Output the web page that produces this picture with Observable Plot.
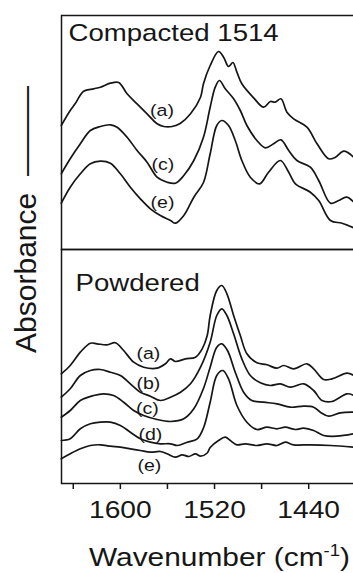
<!DOCTYPE html>
<html>
<head>
<meta charset="utf-8">
<script src="https://cdn.jsdelivr.net/npm/d3@7"></script>
<script src="https://cdn.jsdelivr.net/npm/@observablehq/plot@0.6"></script>
<style>
html, body { margin: 0; padding: 0; background: #fff; overflow: hidden; }
</style>
</head>
<body>
<div id="chart"></div>
<script>
// ---- Data (wavenumber cm^-1, absorbance in arbitrary offset units per panel) ----
const panels = ["Compacted 1514", "Powdered"];
const wavenumberTicks = [1640, 1600, 1560, 1520, 1480, 1440];
const labeledTicks = [1600, 1520, 1440];

const compactedA = [[1650.2,124],[1642.6,139],[1638.3,146],[1631.2,158.3],[1622.7,160.7],[1617,162.3],[1608.5,166.3],[1601.4,167],[1594.3,155.7],[1585.8,145.7],[1577.3,135.7],[1568.8,125.7],[1563.2,123],[1556,123],[1548.9,126.3],[1540.4,135.7],[1531.9,152.3],[1529.4,165.7],[1523.7,184],[1516.6,198],[1512.3,192.3],[1508.1,183],[1504.4,187],[1501,177.3],[1496.8,165.7],[1486.8,151.7],[1478.3,142.3],[1472.6,148],[1468.4,147.3],[1463.6,150.7],[1458.5,137.3],[1452.8,130.7],[1441.5,122.3],[1432.9,105.7],[1423,90.7],[1417.3,92.3],[1410.2,98.3],[1401.7,92.3]];
const compactedC = [[1650.2,75.7],[1642.6,90.7],[1634,105.7],[1625.5,119],[1617,123],[1608.5,124.7],[1602.8,122.3],[1594.3,112.3],[1585.8,99],[1577.3,87.3],[1568.8,72.3],[1560.3,67.3],[1553.2,66.3],[1546.1,74],[1537.6,89],[1529.4,112.3],[1523.7,142.3],[1519.4,162.3],[1515.8,169],[1510.9,160.7],[1503.8,150.7],[1498.1,139],[1492.5,124],[1484,109],[1476.9,101.7],[1469.8,105.7],[1463.6,109.7],[1457,99],[1450,89],[1438.6,82.3],[1431.5,69],[1421.5,46.3],[1414.5,49],[1407.9,52.3],[1401.7,47.3]];
const compactedE = [[1650.2,46.3],[1642.6,62.3],[1634,75.7],[1625.5,85.7],[1617,88.3],[1608.5,86.3],[1600,75.7],[1591.5,62.3],[1583,50.7],[1574.5,40.7],[1566,34],[1557.4,29],[1553.2,26.3],[1546.1,34],[1537.6,52.3],[1529.4,67],[1523.7,95.7],[1518.1,124],[1513.8,129],[1508.1,124],[1502.4,109],[1496.8,89],[1489.6,72.3],[1481.7,65.7],[1474.1,77.3],[1464.1,89],[1457,77.3],[1451.3,65.7],[1438.6,57.3],[1431.5,49],[1421.5,29],[1411.7,26.3],[1401.7,21.7]];

const powderedA = [[1650.2,109.7],[1642.6,118],[1634,131.3],[1625.5,140.3],[1619.8,139.7],[1611.3,138.7],[1604.3,140.7],[1597.2,133],[1588.7,121.3],[1580.2,116.3],[1568.8,115.3],[1561.7,119.7],[1557.4,124.7],[1553.2,122],[1544.7,124.7],[1536.2,126.3],[1530.5,134.7],[1526.2,148],[1523.7,168],[1518.1,193],[1513.8,198],[1509.5,189.7],[1503.8,168],[1498.1,148],[1492.5,129.7],[1484,120.7],[1475.5,118.7],[1467,115.3],[1461.3,118],[1452.8,114.7],[1441.5,119.7],[1435.8,114.7],[1427.3,104],[1420.2,104.7],[1407.4,110.3],[1401.7,108]];
const powderedB = [[1650.2,86.3],[1642.6,94.7],[1634,108],[1625.5,113],[1617,114],[1608.5,111.3],[1600,108],[1591.5,99.7],[1583,91.3],[1574.5,87.3],[1566,83],[1557.4,86.3],[1548.9,91.3],[1540.4,99.7],[1531.9,116.3],[1523.7,141.3],[1518.1,168],[1513.8,174.7],[1509.5,168],[1503.8,149.7],[1496.8,124.7],[1489.6,108],[1481.1,100.7],[1472.6,98],[1464.1,99.7],[1455.6,96.3],[1444.3,99.7],[1435.8,93],[1428.7,83],[1420.2,82],[1407.4,89.7],[1401.7,88]];
const powderedC = [[1650.2,66.3],[1642.6,73],[1634,83],[1622.7,88],[1614.2,89.7],[1605.7,88],[1597.2,81.3],[1588.7,73],[1580.2,68],[1568.8,64],[1557.4,62],[1546.1,64.7],[1537.6,74.7],[1529.4,95],[1523.7,116.3],[1518.1,136.3],[1513.8,139.7],[1509,133],[1502.4,111.3],[1495.3,91.3],[1488.3,83],[1478.3,81.3],[1467,79.7],[1455.6,76.3],[1444.3,77.3],[1435.8,76.3],[1430.1,71.3],[1423,67.3],[1413.1,70.7],[1401.7,71.3]];
const powderedD = [[1650.2,43],[1642.6,44.7],[1634,54.7],[1625.5,59.7],[1617,61.3],[1608.5,61.3],[1600,58],[1591.5,51.3],[1583,44.7],[1574.5,41.3],[1566,39.7],[1557.4,39.7],[1551.7,38],[1543.2,41.3],[1534.7,44.7],[1529.4,55.5],[1523.7,81.3],[1518.1,108],[1513,113],[1508.1,104.7],[1501,78],[1492.5,61.3],[1484,54],[1475.5,56.3],[1467,54.7],[1459.9,56.3],[1451.4,54],[1444.3,55.3],[1435.8,53],[1427.3,48],[1416,47.3],[1401.7,49.7]];
const powderedE = [[1650.2,24.7],[1642.6,29.7],[1634,34.7],[1625.5,38],[1617,38.7],[1608.5,37.3],[1600,36.3],[1591.5,34.7],[1583,33],[1574.5,31.3],[1566,32],[1560.3,29.7],[1553.2,26.3],[1547.5,28.7],[1541.9,27],[1536.2,29.7],[1531.9,27.3],[1526.2,30.5],[1523.7,36],[1516.6,43],[1510.9,46.3],[1506.6,43],[1501,38.7],[1493.9,39.7],[1484,38],[1475.5,39.7],[1467,38],[1459.9,41.3],[1452.8,38.7],[1438.6,38.7],[1421.5,38],[1401.7,36.3]];

// curve annotations
const labelText  = ["(a)", "(c)", "(e)", "(a)", "(b)", "(c)", "(d)", "(e)"];
const labelPanel = [panels[0], panels[0], panels[0], panels[1], panels[1], panels[1], panels[1], panels[1]];
const labelWave  = [1564.6, 1563.8, 1564.2, 1576.2, 1576.2, 1577, 1574.5, 1575.3];
const labelValue = [139, 85, 47.3, 129.7, 99.7, 75.3, 48.7, 18];

// ---- Build tables ----
const seriesList = [
  [panels[0], "(a)", compactedA], [panels[0], "(c)", compactedC], [panels[0], "(e)", compactedE],
  [panels[1], "(a)", powderedA], [panels[1], "(b)", powderedB], [panels[1], "(c)", powderedC],
  [panels[1], "(d)", powderedD], [panels[1], "(e)", powderedE]
];
const rows = seriesList.flatMap(([panel, id, pts]) =>
  pts.map(([w, v]) => ({panel, key: panel + id, w, v})));
const curveLabels = labelText.map((text, i) => ({text, panel: labelPanel[i], w: labelWave[i], v: labelValue[i]}));

const ink = "#161616";
const chart = Plot.plot({
  width: 353,
  height: 573,
  marginTop: 15,
  marginLeft: 61,
  marginRight: -5,
  marginBottom: 90,
  style: {fontFamily: '"Liberation Sans", Arial, Helvetica, sans-serif', fontSize: "24px", color: ink, background: "#fff"},
  x: {domain: [1650, 1397.7]},
  y: {domain: [0, 234], axis: null},
  fy: {domain: panels, padding: 0, axis: null},
  marks: [
    Plot.line(rows, {x: "w", y: "v", z: "key", fy: "panel", stroke: ink, strokeWidth: 1.7, curve: "catmull-rom"}),
    Plot.frame({stroke: ink, strokeWidth: 1.5}),
    Plot.text(curveLabels, {x: "w", y: "v", fy: "panel", text: "text", fontSize: 17, fill: ink}),
    Plot.text([panels[0]], {fy: d => d, text: d => d, frameAnchor: "top-left", textAnchor: "start", lineAnchor: "bottom", dx: 7, dy: 25.7, fontSize: 24, fill: ink}),
    Plot.text([panels[1]], {fy: d => d, text: d => d, frameAnchor: "top-left", textAnchor: "start", lineAnchor: "bottom", dx: 14, dy: 41, fontSize: 24, fill: ink}),
    Plot.text([panels[0]], {fy: d => d, text: () => "Absorbance\u00a0 \u2014\u2014\u2014", frameAnchor: "bottom-left", rotate: -90, textAnchor: "middle", lineAnchor: "bottom", dx: -26, dy: -30, fontSize: 30, fill: ink}),
    Plot.text([panels[1]], {fy: d => d, text: () => "Wavenumber (cm-1)", frameAnchor: "bottom", textAnchor: "middle", lineAnchor: "bottom", dx: 9.5, dy: 82, fontSize: 26, fill: ink}),
    Plot.axisX({ticks: wavenumberTicks, tickSize: 6, tickPadding: 11, strokeWidth: 1.5, stroke: ink,
      tickFormat: d => labeledTicks.includes(d) ? String(d) : "", label: null, fontSize: 24.5, fill: ink})
  ]
});
document.getElementById("chart").append(chart);

// superscript in axis label, then widen horizontal texts like the reference lettering
for (const t of chart.querySelectorAll("text")) {
  if (t.textContent === "Wavenumber (cm-1)") {
    t.textContent = "";
    t.append(document.createTextNode("Wavenumber (cm"));
    const sup = document.createElementNS("http://www.w3.org/2000/svg", "tspan");
    sup.setAttribute("baseline-shift", "super");
    sup.setAttribute("font-size", "62%");
    sup.textContent = "-1";
    t.append(sup);
    const close = document.createElementNS("http://www.w3.org/2000/svg", "tspan");
    close.textContent = ")";
    t.append(close);
  }
}
for (const t of chart.querySelectorAll("text")) {
  if (t.textContent.startsWith("Absorbance") || t.textContent === "") continue;
  const tr = t.getAttribute("transform");
  if (tr) {
    t.setAttribute("transform", tr + " scale(1.15,1)");
  } else {
    const x = +(t.getAttribute("x") || 0);
    t.setAttribute("transform", `translate(${x},0) scale(1.15,1) translate(${-x},0)`);
  }
}
</script>
</body>
</html>
